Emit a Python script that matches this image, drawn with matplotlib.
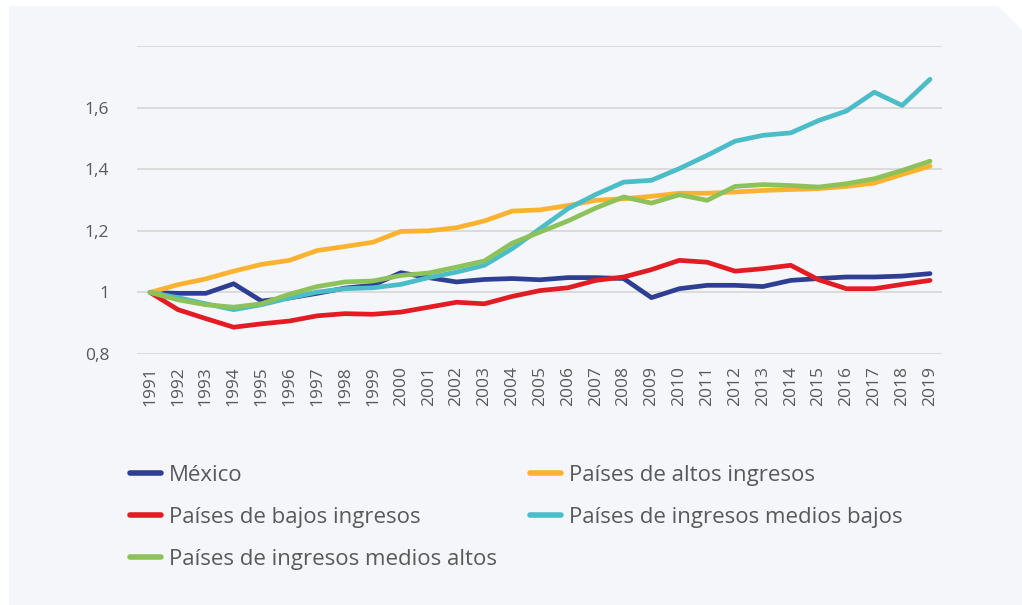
import numpy as np
import matplotlib
matplotlib.use("Agg")
import matplotlib.pyplot as plt
from matplotlib.patches import Polygon

plt.rcParams['font.family'] = ['Open Sans', 'DejaVu Sans']

years = list(range(1991, 2020))

mexico = [1.000, 0.997, 0.997, 1.028, 0.972, 0.982, 0.997, 1.014, 1.023, 1.064,
          1.048, 1.034, 1.042, 1.045, 1.041, 1.048, 1.048, 1.045, 0.983, 1.012,
          1.023, 1.023, 1.019, 1.039, 1.045, 1.050, 1.050, 1.053, 1.061]
altos = [1.000, 1.025, 1.044, 1.069, 1.091, 1.104, 1.136, 1.149, 1.163, 1.198,
         1.200, 1.210, 1.232, 1.264, 1.268, 1.282, 1.299, 1.304, 1.312, 1.322,
         1.322, 1.326, 1.331, 1.334, 1.337, 1.344, 1.355, 1.383, 1.410]
bajos = [1.000, 0.944, 0.915, 0.887, 0.898, 0.907, 0.924, 0.931, 0.929, 0.936,
         0.952, 0.968, 0.963, 0.987, 1.006, 1.015, 1.039, 1.050, 1.074, 1.104,
         1.098, 1.069, 1.077, 1.088, 1.041, 1.012, 1.012, 1.026, 1.039]
medios_bajos = [1.000, 0.983, 0.963, 0.944, 0.960, 0.982, 1.001, 1.012, 1.015, 1.026,
                1.048, 1.066, 1.088, 1.142, 1.207, 1.272, 1.318, 1.358, 1.364, 1.402,
                1.445, 1.491, 1.510, 1.518, 1.558, 1.589, 1.650, 1.607, 1.692]
medios_altos = [1.000, 0.976, 0.960, 0.952, 0.963, 0.994, 1.019, 1.034, 1.037, 1.055,
                1.063, 1.082, 1.102, 1.160, 1.196, 1.232, 1.274, 1.310, 1.290, 1.317,
                1.299, 1.344, 1.350, 1.347, 1.342, 1.353, 1.369, 1.396, 1.426]

series = [
    ("México", mexico, "#2E3F93"),
    ("Países de altos ingresos", altos, "#FBB22F"),
    ("Países de bajos ingresos", bajos, "#E31B23"),
    ("Países de ingresos medios bajos", medios_bajos, "#4BBDC8"),
    ("Países de ingresos medios altos", medios_altos, "#8DC25A"),
]

bg = "#F5F6FA"
fig = plt.figure(figsize=(10.22, 6.05), dpi=100)
fig.patch.set_facecolor("white")

# panel with the clipped top-right corner
W, H = 1022, 605
pts = [(9, 6), (998, 6), (1022, 30), (1022, 605), (9, 605)]
panel = Polygon([(x / W, 1 - y / H) for x, y in pts], closed=True,
                transform=fig.transFigure, facecolor=bg, edgecolor="none", zorder=-5)
fig.patches.append(panel)

ax = fig.add_axes([137 / W, 1 - 354 / H, 805 / W, 308 / H])
ax.set_facecolor("none")

lines = {}
for name, vals, col in series:
    lines[name], = ax.plot(years, vals, color=col, lw=3.4, solid_capstyle="round",
                           solid_joinstyle="round", zorder=3)

ax.set_ylim(0.8, 1.8)
ax.set_xlim(1990.53, 2019.43)
ax.set_yticks([0.8, 1.0, 1.2, 1.4, 1.6, 1.8])
ax.set_yticklabels(["0,8", "1", "1,2", "1,4", "1,6", ""])
ax.set_xticks(years)
ax.set_xticklabels([str(y) for y in years], rotation=90)
ax.grid(axis="y", color="#D9D9D9", lw=1.3)
ax.set_axisbelow(True)
for s in ax.spines.values():
    s.set_visible(False)
ax.tick_params(axis="both", length=0, colors="#595959", labelsize=12.5)
ax.tick_params(axis="y", pad=20)
ax.tick_params(axis="x", pad=9)

order = ["México", "Países de bajos ingresos", "Países de ingresos medios altos",
         "Países de altos ingresos", "Países de ingresos medios bajos"]
leg = fig.legend([lines[n] for n in order], order, ncol=2,
                 loc="upper left", bbox_to_anchor=(110 / W, 1 - 445 / H),
                 frameon=False, fontsize=16, handlelength=1.4,
                 handletextpad=0.35, columnspacing=1.5, labelspacing=0.95)
for t in leg.get_texts():
    t.set_color("#595959")
for l in leg.get_lines():
    l.set_linewidth(4)

fig.savefig("out.png", dpi=100, facecolor=fig.get_facecolor())
